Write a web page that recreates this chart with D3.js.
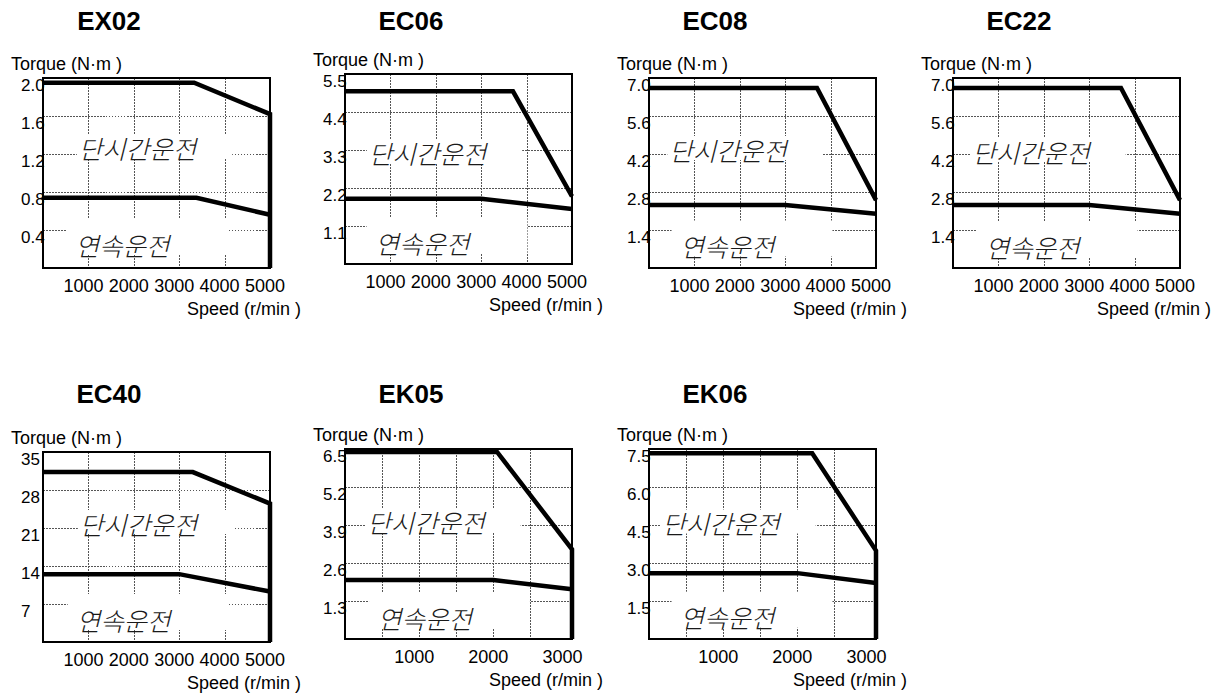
<!DOCTYPE html>
<meta charset="utf-8">
<style>
  html, body { margin: 0; padding: 0; background: #fff; }
  svg { display: block; }
  text { font-family: "Liberation Sans", Arial, sans-serif; fill: #000; }
  .title { font-size: 26px; font-weight: bold; }
  .unit { font-size: 18px; }
  .ytick { font-size: 17px; }
  .xtick { font-size: 18px; }
  .region { font-family: "Noto Sans CJK KR", sans-serif; font-size: 25.5px; font-style: italic; font-weight: 300; fill: #1a1a1a; }
  .grid { stroke: #555; stroke-width: 1; stroke-dasharray: 1.5,1.5; fill: none; shape-rendering: crispEdges; }
  .frame { fill: none; stroke: #000; stroke-width: 2; }
  .curve { fill: none; stroke: #000; stroke-width: 4.5; stroke-linejoin: miter; }
</style>
<svg id="chart" width="1227" height="693"></svg>
<script src="https://cdnjs.cloudflare.com/ajax/libs/d3/7.8.5/d3.min.js"></script>
<script>
// motor models and axis ranges
var models = ["EX02", "EC06", "EC08", "EC22", "EC40", "EK05", "EK06"];
var speedMax = [5000, 5000, 5000, 5000, 5000, 3060, 3060];
var torqueMax = [2.0, 5.5, 7.0, 7.0, 35, 6.5, 7.5];
var torqueTicks = [
  [0.4, 0.8, 1.2, 1.6, 2.0],
  [1.1, 2.2, 3.3, 4.4, 5.5],
  [1.4, 2.8, 4.2, 5.6, 7.0],
  [1.4, 2.8, 4.2, 5.6, 7.0],
  [7, 14, 21, 28, 35],
  [1.3, 2.6, 3.9, 5.2, 6.5],
  [1.5, 3.0, 4.5, 6.0, 7.5]
];
var tickFormat = [".1f", ".1f", ".1f", ".1f", "d", ".1f", ".1f"];
var speedGrid = [
  [1000, 2000, 3000, 4000], [1000, 2000, 3000, 4000], [1000, 2000, 3000, 4000],
  [1000, 2000, 3000, 4000], [1000, 2000, 3000, 4000],
  [500, 1000, 1500, 2000, 2500], [500, 1000, 1500, 2000, 2500]
];
var speedLabels = [
  [1000, 2000, 3000, 4000, 5000], [1000, 2000, 3000, 4000, 5000], [1000, 2000, 3000, 4000, 5000],
  [1000, 2000, 3000, 4000, 5000], [1000, 2000, 3000, 4000, 5000],
  [1000, 2000, 3000], [1000, 2000, 3000]
];

// 단시간운전 limit (speed, torque)
var peakCurve = [
  [[0, 1.95], [3330, 1.95], [5000, 1.62], [5000, 0]],
  [[0, 5.0], [3700, 5.0], [5000, 1.96]],
  [[0, 6.63], [3700, 6.63], [5000, 2.5]],
  [[0, 6.63], [3700, 6.63], [5000, 2.5]],
  [[0, 31.3], [3300, 31.3], [5000, 25.5], [5000, 0]],
  [[0, 6.4], [2050, 6.4], [3060, 3.07], [3060, 0]],
  [[0, 7.33], [2200, 7.33], [3060, 3.49], [3060, 0]]
];
// 연속운전 limit
var ratedCurve = [
  [[0, 0.74], [3380, 0.74], [5000, 0.56]],
  [[0, 1.89], [3000, 1.89], [5000, 1.59]],
  [[0, 2.32], [3000, 2.32], [5000, 2.0]],
  [[0, 2.32], [3000, 2.32], [5000, 2.0]],
  [[0, 12.5], [3000, 12.5], [5000, 9.3]],
  [[0, 2.02], [2000, 2.02], [3060, 1.7]],
  [[0, 2.6], [2000, 2.6], [3060, 2.21]]
];
var peakText = "단시간운전";
var ratedText = "연속운전";

// layout
var W = 227, H = 190;
var boxLeft = [43, 345, 649, 953, 43, 345, 649];
var boxTop = [78, 74, 78, 78, 452, 449, 449];
var titleY = [30, 30, 30, 30, 403, 403, 403];
var peakPos = [[94.5, 69], [82.5, 78.5], [79, 71], [78, 73], [95.5, 71], [81, 72], [72, 73.5]];
var ratedPos = [[79.5, 166], [77.5, 168.5], [78.5, 167.5], [79.6, 168], [80.6, 167], [80, 168], [78.5, 167.7]];

var svg = d3.select("#chart");

models.forEach(function(name, i) {
  var g = svg.append("g").attr("transform", "translate(" + boxLeft[i] + "," + boxTop[i] + ")");
  var x = d3.scaleLinear().domain([0, speedMax[i]]).range([0, W]);
  var y = d3.scaleLinear().domain([0, torqueMax[i]]).range([H, 0]);
  var fmt = d3.format(tickFormat[i]);

  svg.append("text").attr("class", "title")
    .attr("x", boxLeft[i] + 66).attr("y", titleY[i])
    .attr("text-anchor", "middle").text(name);

  // grid
  g.selectAll(".hg").data(torqueTicks[i].filter(function(t) { return t < torqueMax[i]; }))
    .enter().append("line").attr("class", "grid")
    .attr("x1", 0).attr("x2", W)
    .attr("y1", function(d) { return Math.round(y(d)) + 0.5; })
    .attr("y2", function(d) { return Math.round(y(d)) + 0.5; });
  g.selectAll(".vg").data(speedGrid[i])
    .enter().append("line").attr("class", "grid")
    .attr("y1", 0).attr("y2", H)
    .attr("x1", function(d) { return Math.round(x(d)) + 0.5; })
    .attr("x2", function(d) { return Math.round(x(d)) + 0.5; });

  // region labels with white backing
  function region(txt, pos, padL, padR, padT) {
    var t = g.append("text").attr("class", "region")
      .attr("x", pos[0]).attr("y", pos[1])
      .attr("text-anchor", "middle").attr("dominant-baseline", "central")
      .text(txt);
    var len = t.node().getComputedTextLength();
    g.insert("rect", "text.region")
      .attr("x", pos[0] - len / 2 - padL).attr("y", pos[1] - padT)
      .attr("width", len + padL + padR).attr("height", padT + 11)
      .attr("fill", "#fff");
  }
  region(peakText, peakPos[i], 2, 36, 13);
  region(ratedText, ratedPos[i], 9, 58, 25);

  // y tick labels
  g.selectAll(".yt").data(torqueTicks[i]).enter().append("text")
    .attr("class", "ytick")
    .attr("x", -22).attr("y", function(d) { return y(d) + 12.5; })
    .text(function(d) { return fmt(d); });

  // curves
  var line = d3.line().x(function(d) { return x(d[0]); }).y(function(d) { return y(d[1]); });
  g.append("path").attr("class", "curve").attr("d", line(peakCurve[i]));
  g.append("path").attr("class", "curve").attr("d", line(ratedCurve[i]));

  g.append("rect").attr("class", "frame").attr("width", W).attr("height", H);

  // x tick labels
  g.selectAll(".xt").data(speedLabels[i]).enter().append("text")
    .attr("class", "xtick")
    .attr("x", function(d) { return x(d) - 5; }).attr("y", H + 24)
    .attr("text-anchor", "middle")
    .text(function(d) { return d; });

  g.append("text").attr("class", "unit").attr("x", -32).attr("y", -8).text("Torque (N·m )");
  g.append("text").attr("class", "unit").attr("x", W + 31).attr("y", H + 47)
    .attr("text-anchor", "end").text("Speed (r/min )");
});
</script>
